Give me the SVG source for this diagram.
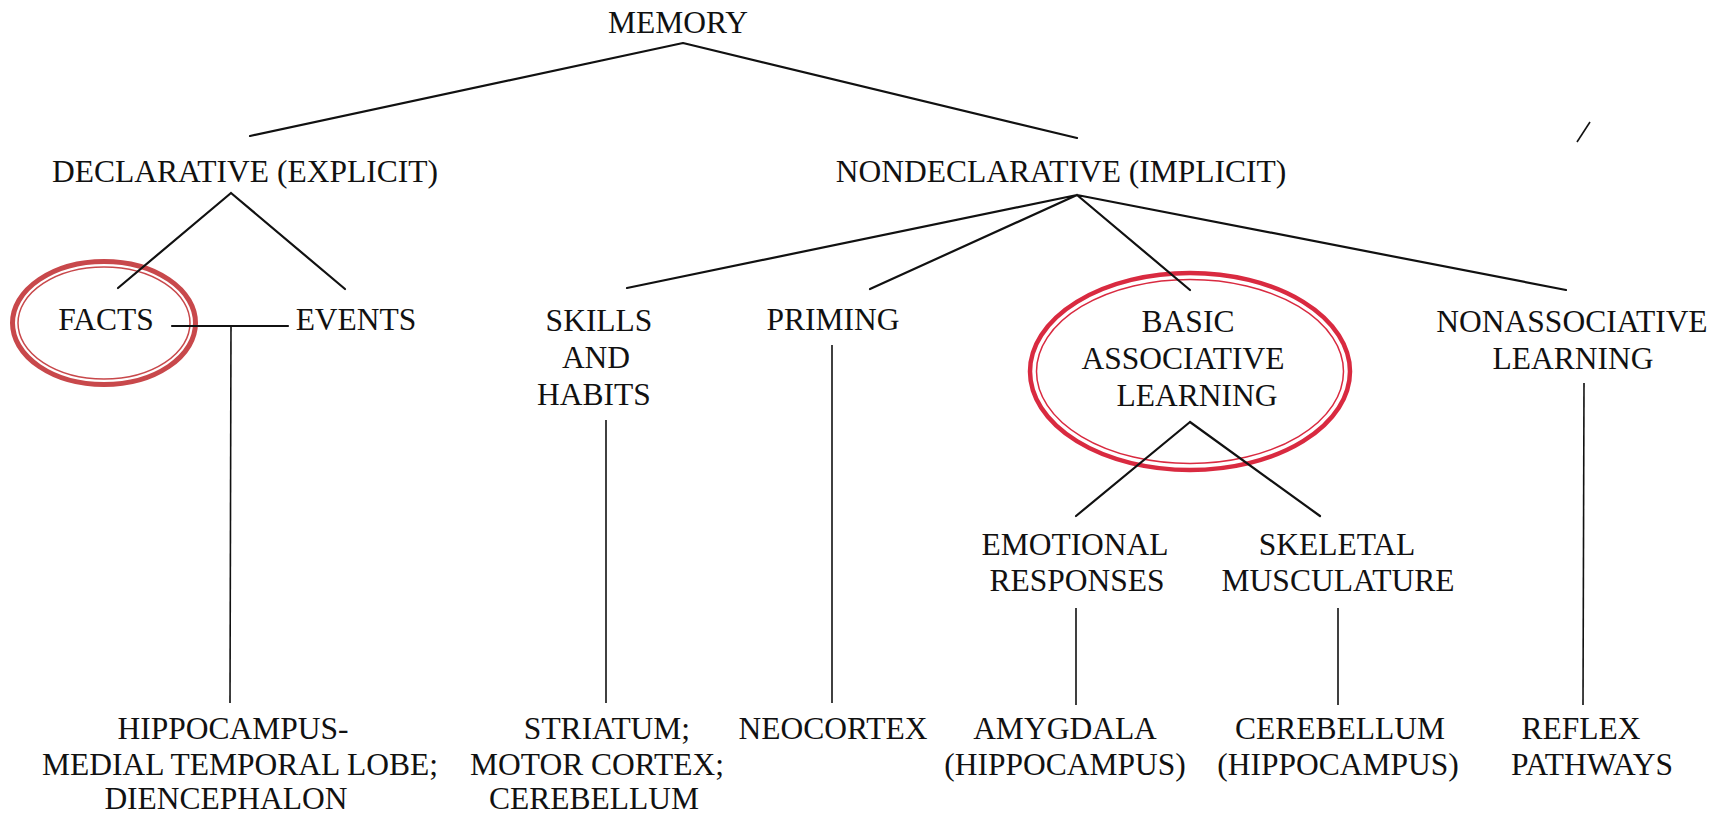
<svg xmlns="http://www.w3.org/2000/svg" width="1725" height="816" viewBox="0 0 1725 816">
<style>
text{font-family:"Liberation Serif","Times New Roman",serif;font-size:31.5px;fill:#111;text-anchor:middle}
.ln{stroke:#111;stroke-width:2.2;fill:none;stroke-linecap:round}
.vl{stroke:#111;stroke-width:1.6;fill:none}
.r1{stroke:#c8484b;fill:none}
.r2{stroke:#d92a40;fill:none}
</style>
<rect width="1725" height="816" fill="#fff"/>
<g id="highlights">
<g id="facts-ring"><ellipse class="r1" cx="104" cy="323" rx="91.5" ry="61.5" stroke-width="5"/><ellipse class="r1" cx="104" cy="323" rx="86" ry="56" stroke-width="1.5"/></g>
<g id="basic-ring"><ellipse class="r2" cx="1190" cy="371.5" rx="160" ry="98.5" stroke-width="4.5"/><ellipse class="r2" cx="1190" cy="371.5" rx="153.5" ry="92" stroke-width="1.5"/></g>
</g>
<g id="connectors">
<path class="ln" d="M683,43 L250,136 M683,43 L1077,138"/>
<path class="ln" d="M231,193 L118,288 M231,193 L345,289"/>
<path class="ln" d="M172,326 L288,326"/>
<path class="vl" d="M231,326 L230,703"/>
<path class="ln" d="M1077,195 L627,288 M1077,195 L870,289 M1077,195 L1190,290 M1077,195 L1566,290"/>
<path class="vl" d="M606,420 L606,703"/>
<path class="vl" d="M832,345 L832,703"/>
<path class="ln" d="M1190,422 L1076,516 M1190,422 L1320,516"/>
<path class="vl" d="M1076,608 L1076,705 M1338,608 L1338,705"/>
<path class="vl" d="M1584,383 L1583,705"/>
<path class="vl" d="M1577,142 L1590,122"/>
</g>
<g id="memory"><text x="678" y="33">MEMORY</text></g>
<g id="declarative"><text x="245" y="182">DECLARATIVE (EXPLICIT)</text></g>
<g id="nondeclarative"><text x="1061" y="182">NONDECLARATIVE (IMPLICIT)</text></g>
<g id="facts"><text x="106" y="330">FACTS</text></g>
<g id="events"><text x="356" y="330">EVENTS</text></g>
<g id="skills"><text x="599" y="331">SKILLS</text><text x="596" y="368">AND</text><text x="594" y="405">HABITS</text></g>
<g id="priming"><text x="833" y="330">PRIMING</text></g>
<g id="basic"><text x="1188" y="332">BASIC</text><text x="1183" y="369">ASSOCIATIVE</text><text x="1197" y="406">LEARNING</text></g>
<g id="nonassociative"><text x="1572" y="332">NONASSOCIATIVE</text><text x="1573" y="369">LEARNING</text></g>
<g id="emotional"><text x="1075" y="555">EMOTIONAL</text><text x="1077" y="591">RESPONSES</text></g>
<g id="skeletal"><text x="1337" y="555">SKELETAL</text><text x="1338" y="591">MUSCULATURE</text></g>
<g id="hippocampus-mtl"><text x="233" y="739">HIPPOCAMPUS-</text><text x="240" y="775">MEDIAL TEMPORAL LOBE;</text><text x="226" y="809">DIENCEPHALON</text></g>
<g id="striatum"><text x="607" y="739">STRIATUM;</text><text x="597" y="775">MOTOR CORTEX;</text><text x="594" y="809">CEREBELLUM</text></g>
<g id="neocortex"><text x="833" y="739">NEOCORTEX</text></g>
<g id="amygdala"><text x="1065" y="739">AMYGDALA</text><text x="1065" y="775">(HIPPOCAMPUS)</text></g>
<g id="cerebellum"><text x="1340" y="739">CEREBELLUM</text><text x="1338" y="775">(HIPPOCAMPUS)</text></g>
<g id="reflex"><text x="1581" y="739">REFLEX</text><text x="1592" y="775">PATHWAYS</text></g>
</svg>
